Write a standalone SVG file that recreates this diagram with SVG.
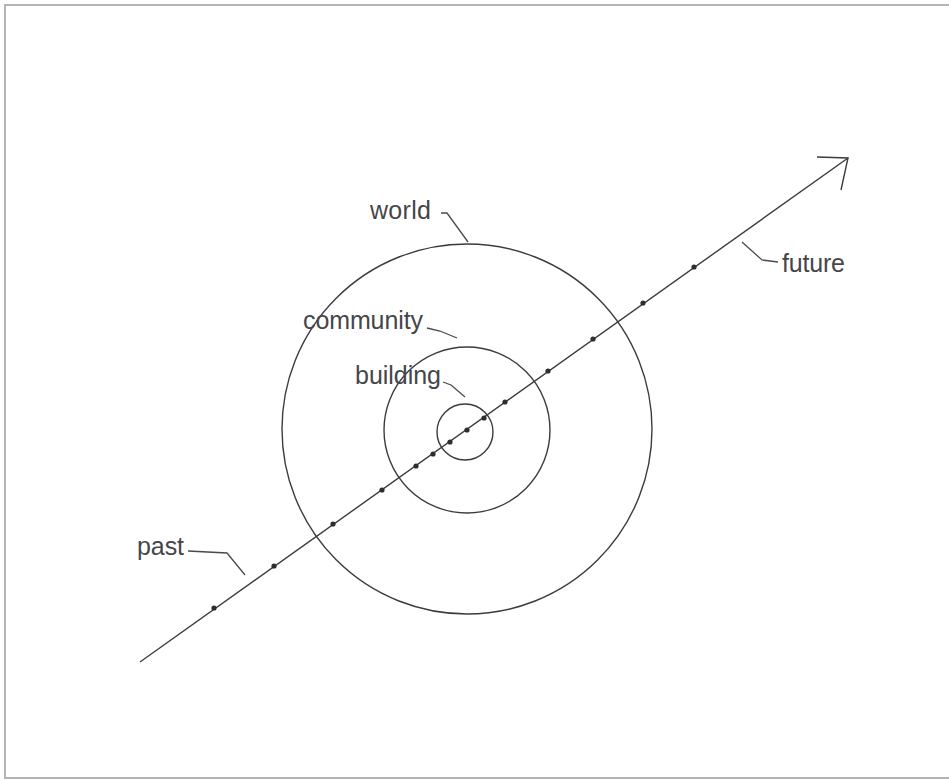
<svg xmlns="http://www.w3.org/2000/svg" width="949" height="780" viewBox="0 0 949 780">
<style>
.frame{fill:none;stroke:#b4b4b8;stroke-width:2}
.ring{fill:none;stroke:#3c3c40;stroke-width:1.4}
.axis{fill:none;stroke:#3c3c40;stroke-width:1.4}
.lead{fill:none;stroke:#4a4a4e;stroke-width:1.3}
.dot{fill:#2e2e32}
.lbl{font-family:"Liberation Sans",Arial,sans-serif;font-size:25px;fill:#46464a}
</style>
<rect width="949" height="780" fill="#ffffff"/>
<rect class="frame" x="5" y="5" width="950" height="773"/>
<g id="world">
<circle class="ring" cx="467" cy="429" r="185"/>
<text class="lbl" x="370" y="219" textLength="61">world</text>
<path class="lead" d="M441,213 L447,213 L468,242"/>
</g>
<g id="community">
<circle class="ring" cx="467" cy="430" r="83"/>
<text class="lbl" x="303" y="329" textLength="120">community</text>
<path class="lead" d="M427,328 L440,331 L457,338"/>
</g>
<g id="building">
<circle class="ring" cx="465" cy="432" r="28"/>
<text class="lbl" x="355" y="384" textLength="86">building</text>
<path class="lead" d="M443,382 L451,385 L465,397"/>
</g>
<g id="connectors">
<line class="axis" x1="140" y1="662" x2="848" y2="158"/>
<path class="axis" d="M817,157 L848,158 L841,190"/>
<g class="dots">
<circle class="dot" cx="214" cy="608" r="2.6"/>
<circle class="dot" cx="274" cy="566" r="2.6"/>
<circle class="dot" cx="333" cy="524" r="2.6"/>
<circle class="dot" cx="382" cy="490" r="2.6"/>
<circle class="dot" cx="416" cy="466" r="2.6"/>
<circle class="dot" cx="433" cy="454" r="2.6"/>
<circle class="dot" cx="450" cy="442" r="2.6"/>
<circle class="dot" cx="467" cy="430" r="2.6"/>
<circle class="dot" cx="484" cy="418" r="2.6"/>
<circle class="dot" cx="505" cy="402" r="2.6"/>
<circle class="dot" cx="548" cy="371" r="2.6"/>
<circle class="dot" cx="593" cy="339" r="2.6"/>
<circle class="dot" cx="643" cy="303" r="2.6"/>
<circle class="dot" cx="694" cy="267" r="2.6"/>
</g>
</g>
<g id="future">
<text class="lbl" x="782" y="272" textLength="63">future</text>
<path class="lead" d="M742,242 L762,260 L778,262"/>
</g>
<g id="past">
<text class="lbl" x="137" y="555" textLength="47">past</text>
<path class="lead" d="M188,551 L227,553 L245,575"/>
</g>
</svg>
